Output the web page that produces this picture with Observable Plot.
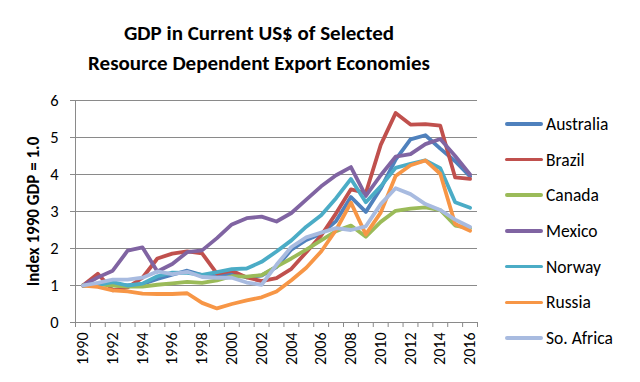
<!DOCTYPE html>
<html><head><meta charset="utf-8">
<script src="https://cdn.jsdelivr.net/npm/d3@7"></script>
<script src="https://cdn.jsdelivr.net/npm/@observablehq/plot@0.6"></script>
<style>
body{margin:0;background:#fff;font-family:Carlito,Lato,sans-serif;}
#wrap{position:relative;width:640px;height:382px;overflow:hidden;background:#fff;}
#title{position:absolute;left:0;top:0;width:518px;text-align:center;font-weight:bold;font-size:21px;line-height:30px;padding-top:18px;color:#000;}
#chart{position:absolute;left:0;top:85px;}
#legend{position:absolute;left:505px;top:106px;}
.row{height:35.7px;display:flex;align-items:center;font-size:17.5px;color:#000;}
.sw{width:38px;height:3.5px;margin-right:3px;border-radius:2px;}
#chart svg [aria-label="y-axis label"] text{font-weight:bold;font-size:17px;}
</style>
</head><body>
<div id="wrap">
  <div id="title">GDP in Current US$ of Selected<br>Resource Dependent Export Economies</div>
  <div id="chart"></div>
  <div id="legend"></div>
</div>
<script>
const years = d3.range(1990, 2017);
const yearLabels = d3.range(1990, 2017, 2);
const countries = ["Australia", "Brazil", "Canada", "Mexico", "Norway", "Russia", "So. Africa"];
const colors = ["#4F81BD", "#C0504D", "#9BBB59", "#8064A2", "#4BACC6", "#F79646", "#A8BBE0"];

const australia = [1.0, 1.05, 1.04, 1.0, 1.04, 1.18, 1.29, 1.4, 1.28, 1.25, 1.33, 1.22, 1.27, 1.5, 1.97, 2.23, 2.4, 2.74, 3.39, 2.99, 3.62, 4.4, 4.95, 5.06, 4.7, 4.36, 3.95];
const brazil = [1.0, 1.32, 0.87, 0.95, 1.21, 1.73, 1.86, 1.92, 1.87, 1.32, 1.4, 1.22, 1.12, 1.2, 1.45, 1.9, 2.35, 2.95, 3.6, 3.5, 4.8, 5.66, 5.35, 5.36, 5.32, 3.92, 3.88];
const canada = [1.0, 1.03, 1.0, 0.97, 0.97, 1.02, 1.06, 1.1, 1.07, 1.14, 1.25, 1.24, 1.28, 1.51, 1.73, 1.97, 2.22, 2.47, 2.62, 2.32, 2.72, 3.02, 3.08, 3.11, 3.04, 2.62, 2.55];
const mexico = [1.0, 1.22, 1.4, 1.94, 2.03, 1.38, 1.58, 1.9, 1.95, 2.28, 2.65, 2.82, 2.86, 2.73, 2.96, 3.32, 3.68, 3.98, 4.2, 3.42, 3.98, 4.48, 4.55, 4.82, 4.96, 4.5, 4.0];
const norway = [1.0, 1.02, 1.09, 1.0, 1.05, 1.25, 1.35, 1.34, 1.29, 1.36, 1.44, 1.46, 1.64, 1.92, 2.22, 2.59, 2.9, 3.36, 3.88, 3.25, 3.68, 4.18, 4.29, 4.38, 4.17, 3.25, 3.1];
const russia = [1.0, 0.96, 0.87, 0.84, 0.78, 0.77, 0.77, 0.79, 0.53, 0.38, 0.5, 0.6, 0.68, 0.84, 1.14, 1.48, 1.92, 2.5, 3.24, 2.38, 2.97, 3.96, 4.25, 4.38, 4.02, 2.66, 2.48];
const soAfrica = [1.0, 1.07, 1.16, 1.16, 1.21, 1.38, 1.31, 1.37, 1.23, 1.21, 1.21, 1.08, 1.02, 1.56, 2.04, 2.3, 2.43, 2.55, 2.5, 2.6, 3.2, 3.63, 3.47, 3.2, 3.04, 2.78, 2.58];

const seriesValues = [australia, brazil, canada, mexico, norway, russia, soAfrica];
const yTicks = [0, 1, 2, 3, 4, 5, 6];

const data = countries.flatMap((c, i) => years.map((y, j) => ({country: c, year: y, value: seriesValues[i][j]})));

const grey = "#8a8a8a";
const chart = Plot.plot({
  width: 490,
  height: 297,
  marginLeft: 75,
  marginRight: 13,
  marginTop: 15,
  marginBottom: 60,
  style: {fontFamily: "Carlito, Lato, sans-serif", fontSize: "16.5px", color: "#000", background: "#fff"},
  x: {domain: [1989.5, 2016.5]},
  y: {domain: [0, 6]},
  color: {domain: countries, range: colors},
  marks: [
    Plot.gridY(yTicks.slice(1), {stroke: grey, strokeOpacity: 1, strokeWidth: 1}),
    Plot.ruleY([0], {stroke: grey, strokeWidth: 1}),
    Plot.ruleX([1989.5], {y1: 0, y2: 6, stroke: grey, strokeWidth: 1}),
    Plot.axisY({ticks: yTicks, tickSize: 5, tickPadding: 12, stroke: grey, fontSize: 16.5, tickFormat: d3.format("d"),
      label: "Index 1990 GDP = 1.0", labelAnchor: "center", labelArrow: "none", labelOffset: 49}),
    Plot.axisX({ticks: d3.range(1989.5, 2017, 1), tickSize: 5, stroke: grey, tickFormat: () => "", label: null}),
    Plot.axisX({ticks: yearLabels, tickSize: 0, tickPadding: 10, tickRotate: -90, fontSize: 16, tickFormat: d => String(d), label: null}),
    Plot.line(data, {x: "year", y: "value", stroke: "country", strokeWidth: 3.8, strokeLinejoin: "round", strokeLinecap: "round"})
  ]
});
document.getElementById("chart").appendChild(chart);

const legend = document.getElementById("legend");
countries.forEach((c, i) => {
  const row = document.createElement("div");
  row.className = "row";
  const sw = document.createElement("div");
  sw.className = "sw";
  sw.style.background = colors[i];
  const t = document.createElement("span");
  t.textContent = c;
  row.appendChild(sw);
  row.appendChild(t);
  legend.appendChild(row);
});
</script>
</body></html>
